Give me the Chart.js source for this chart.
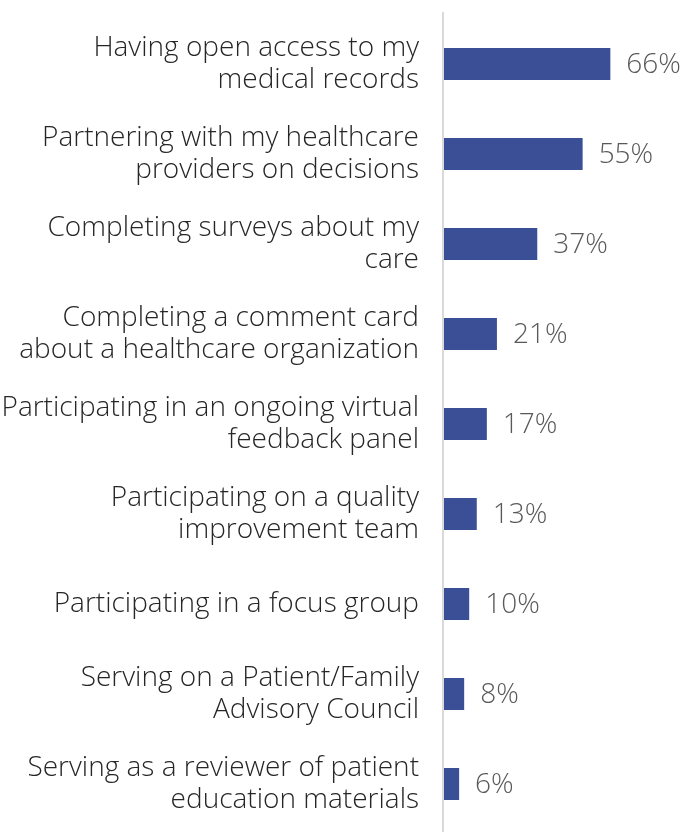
<!DOCTYPE html>
<html>
<head>
<meta charset="utf-8">
<script src="https://cdn.jsdelivr.net/npm/chart.js"></script>
<style>
  html, body { margin: 0; padding: 0; background: #fff; }
  #wrap { width: 690px; height: 832px; position: relative; }
</style>
</head>
<body>
<div id="wrap"><canvas id="myChart"></canvas></div>
<script>
// Categorias (duas linhas cada) e percentuais
const categorias = [
    ['Having open access to my', 'medical records'],
    ['Partnering with my healthcare', 'providers on decisions'],
    ['Completing surveys about my', 'care'],
    ['Completing a comment card', 'about a healthcare organization'],
    ['Participating in an ongoing virtual', 'feedback panel'],
    ['Participating on a quality', 'improvement team'],
    ['Participating in a focus group'],
    ['Serving on a Patient/Family', 'Advisory Council'],
    ['Serving as a reviewer of patient', 'education materials']
];
const percentuais = [66, 55, 37, 21, 17, 13, 10, 8, 6];

const fonte = '"Open Sans", Lato, sans-serif';

// Escreve o valor ao lado de cada barra
const rotulosValor = {
    id: 'rotulosValor',
    afterDatasetsDraw(chart) {
        const ctx = chart.ctx;
        const meta = chart.getDatasetMeta(0);
        ctx.save();
        ctx.font = '300 28px ' + fonte;
        ctx.fillStyle = '#595959';
        ctx.textAlign = 'left';
        ctx.textBaseline = 'middle';
        meta.data.forEach((bar, i) => {
            ctx.fillText(percentuais[i] + '%', bar.x + 16, bar.y + 1);
        });
        ctx.restore();
    }
};

// Linha vertical do eixo, do topo até o fim do canvas
const linhaEixo = {
    id: 'linhaEixo',
    beforeDatasetsDraw(chart) {
        const ctx = chart.ctx;
        const x = chart.scales.x.left - 1;
        ctx.save();
        ctx.strokeStyle = '#d9d9d9';
        ctx.lineWidth = 2;
        ctx.beginPath();
        ctx.moveTo(x, 12);
        ctx.lineTo(x, chart.height);
        ctx.stroke();
        ctx.restore();
    }
};

const ctx = document.getElementById('myChart').getContext('2d');
const myChart = new Chart(ctx, {
    type: 'bar',
    data: {
        labels: categorias,
        datasets: [{
            data: percentuais,
            backgroundColor: '#3a4f95',
            borderWidth: 0,
            barPercentage: 0.356,
            categoryPercentage: 1
        }]
    },
    options: {
        indexAxis: 'y',
        responsive: true,
        maintainAspectRatio: false,
        animation: false,
        layout: { padding: { top: 19, bottom: 3, right: 0, left: 0 } },
        plugins: {
            legend: { display: false },
            tooltip: { enabled: false }
        },
        scales: {
            x: {
                display: false,
                min: 0,
                max: 97.6
            },
            y: {
                // largura fixa e sem folga extra para os rótulos de duas linhas
                afterFit(scale) {
                    scale.width = 444;
                    scale.paddingTop = 0;
                    scale.paddingBottom = 0;
                },
                grid: { display: false, drawTicks: false },
                border: { display: false },
                ticks: {
                    padding: 25,
                    color: '#262626',
                    font: { family: fonte, size: 28, weight: 300, lineHeight: 1.14 }
                }
            }
        }
    },
    plugins: [rotulosValor, linhaEixo]
});
</script>
</body>
</html>
